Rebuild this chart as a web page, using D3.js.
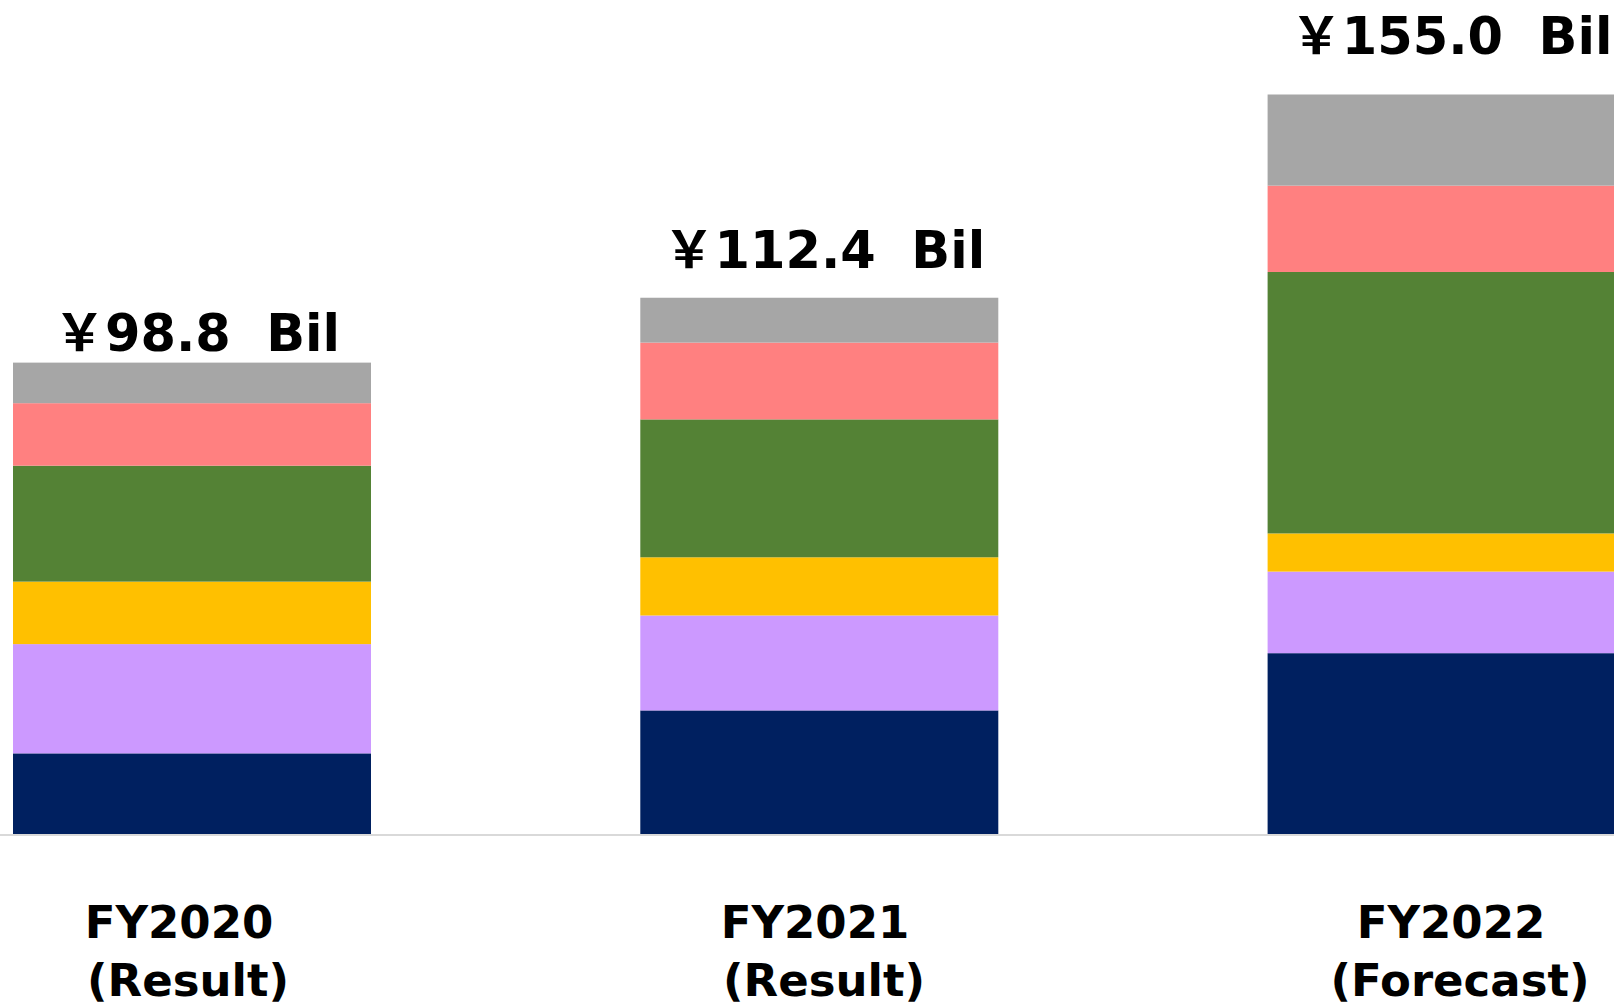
<!DOCTYPE html>
<html>
<head>
<meta charset="utf-8">
<script src="https://cdn.jsdelivr.net/npm/d3@7/dist/d3.min.js"></script>
<style>
  html, body { margin: 0; padding: 0; background: #ffffff; overflow: hidden; }
  svg { display: block; }
  text { font-family: "DejaVu Sans", "Noto Sans CJK JP", sans-serif; font-weight: bold; fill: #000; white-space: pre; }
</style>
</head>
<body>
<svg id="chart" width="1614" height="1004"></svg>
<script>
// ---- data ----
const categories = ["FY2020", "FY2021", "FY2022"];
const categoryNotes = ["(Result)", "(Result)", "(Forecast)"];
const seriesNames = ["Segment 1", "Segment 2", "Segment 3", "Segment 4", "Segment 5", "Segment 6"];
const segment1 = [16.9, 25.9, 37.9];
const segment2 = [22.9, 19.9, 17.1];
const segment3 = [13.1, 12.2, 8.0];
const segment4 = [24.3, 28.9, 54.8];
const segment5 = [13.1, 16.1, 18.1];
const segment6 = [8.5, 9.4, 19.1];
const totals = [98.8, 112.4, 155.0];
const totalLabels = ["￥98.8  Bil", "￥112.4  Bil", "￥155.0  Bil"];

// ---- styles / layout ----
const colors = ["#002060", "#CC99FF", "#FFC000", "#548235", "#FF8080", "#A6A6A6"];
const W = 1614, H = 1004;
const baseY = 834;
const labelGaps = [12, 30, 40];

const seriesValues = [segment1, segment2, segment3, segment4, segment5, segment6];
const rows = categories.map((c, i) => {
  const r = { category: c };
  seriesNames.forEach((s, k) => { r[s] = seriesValues[k][i]; });
  return r;
});

const svg = d3.select("#chart");

const x = d3.scaleBand()
  .domain(categories)
  .range([13, 1625.6])
  .paddingInner(0.4293)
  .paddingOuter(0);

const y = d3.scaleLinear()
  .domain([0, 155])
  .range([baseY, baseY - 4.771 * 155]);

const stack = d3.stack().keys(seriesNames);
const stacked = stack(rows);

// baseline
svg.append("line")
  .attr("x1", 0).attr("x2", W)
  .attr("y1", baseY + 1).attr("y2", baseY + 1)
  .attr("stroke", "#d9d9d9").attr("stroke-width", 2);

const layers = svg.append("g").selectAll("g")
  .data(stacked)
  .join("g")
  .attr("fill", (d, i) => colors[i]);

layers.selectAll("rect")
  .data(d => d)
  .join("rect")
  .attr("x", d => x(d.data.category))
  .attr("width", x.bandwidth())
  .attr("y", d => y(d[1]))
  .attr("height", d => y(d[0]) - y(d[1]));

// total labels
svg.append("g").selectAll("text")
  .data(categories)
  .join("text")
  .attr("x", (c, i) => x(c) + x.bandwidth() / 2 + 5)
  .attr("y", (c, i) => y(totals[i]) - labelGaps[i])
  .attr("text-anchor", "middle")
  .attr("font-size", 51)
  .attr("xml:space", "preserve")
  .text((c, i) => totalLabels[i]);

// category labels
const lx = d3.scalePoint().domain(categories).range([179, 1451]);
const catG = svg.append("g");
catG.selectAll("text.cat")
  .data(categories)
  .join("text")
  .attr("class", "cat")
  .attr("x", c => lx(c))
  .attr("y", 938)
  .attr("text-anchor", "middle")
  .attr("font-size", 45)
  .text(c => c);
catG.selectAll("text.note")
  .data(categories)
  .join("text")
  .attr("class", "note")
  .attr("x", c => lx(c) + 9)
  .attr("y", 996)
  .attr("text-anchor", "middle")
  .attr("font-size", 45)
  .text((c, i) => categoryNotes[i]);
</script>
</body>
</html>
